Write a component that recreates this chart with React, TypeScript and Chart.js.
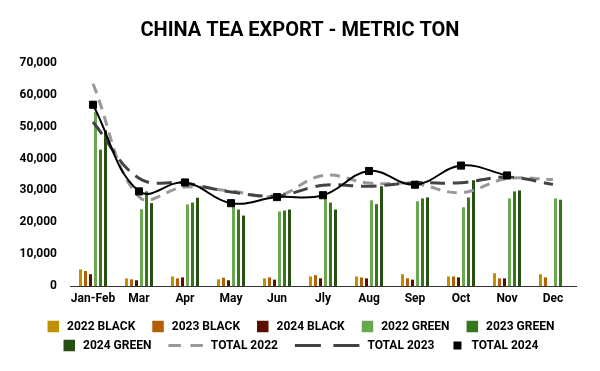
import React, { useEffect, useRef } from 'react';
import { Chart, registerables } from 'chart.js';

Chart.register(...registerables);

const TITLE = 'CHINA TEA EXPORT - METRIC TON';
const categories = ['Jan-Feb', 'Mar', 'Apr', 'May', 'Jun', 'Jly', 'Aug', 'Sep', 'Oct', 'Nov', 'Dec'];
const yTicks = [0, 10000, 20000, 30000, 40000, 50000, 60000, 70000];

const black2022 = [5200, 2400, 3000, 2100, 2400, 3000, 3000, 3700, 3000, 4000, 3700];
const black2023 = [4700, 2100, 2400, 2600, 2700, 3400, 2700, 2400, 3000, 2400, 2700];
const black2024 = [3700, 1800, 2700, 1800, 2000, 2400, 2400, 2000, 2700, 2400, null];
const green2022 = [54600, 24100, 25600, 24800, 23400, 28000, 26900, 26600, 24700, 27500, 27500];
const green2023 = [42800, 29700, 26200, 24000, 23700, 26200, 25700, 27500, 27800, 29700, 27100];
const green2024 = [48900, 26000, 27700, 22100, 24000, 24000, 31300, 27800, 33200, 30000, null];
const total2022 = [63500, 28000, 31100, 29800, 28300, 34700, 32300, 32100, 29300, 33700, 33400];
const total2023 = [51500, 33800, 32300, 29500, 28300, 31600, 31300, 32400, 32400, 34200, 31900];
const total2024 = [56900, 29700, 32500, 26000, 27900, 28500, 36100, 31800, 37800, 34700, null];

const FONT = 'Roboto, "Noto Sans", Arial, sans-serif';

type LegendItem = { label: string; kind: 'box' | 'dash' | 'marker'; color: string; dash?: number[]; w: number };

const legendRows: LegendItem[][] = [
  [
    { label: '2022 BLACK', kind: 'box', color: '#BF9000', w: 11.5 },
    { label: '2023 BLACK', kind: 'box', color: '#B45F06', w: 11.5 },
    { label: '2024 BLACK', kind: 'box', color: '#5B0F00', w: 11.5 },
    { label: '2022 GREEN', kind: 'box', color: '#6AA84F', w: 11.5 },
    { label: '2023 GREEN', kind: 'box', color: '#38761D', w: 11.5 },
  ],
  [
    { label: '2024 GREEN', kind: 'box', color: '#274E13', w: 11.5 },
    { label: 'TOTAL 2022', kind: 'dash', color: '#999999', dash: [12.5, 9.5], w: 34.5 },
    { label: 'TOTAL 2023', kind: 'dash', color: '#434343', dash: [26, 12.5], w: 64.5 },
    { label: 'TOTAL 2024', kind: 'marker', color: '#000000', w: 12 },
  ],
];

const titleAndLegend = {
  id: 'titleAndLegend',
  afterDraw(chart: any) {
    const ctx = chart.ctx as CanvasRenderingContext2D;
    ctx.save();
    ctx.fillStyle = '#000';
    ctx.font = `bold 20px ${FONT}`;
    ctx.textAlign = 'center';
    ctx.textBaseline = 'middle';
    ctx.fillText(TITLE, 300, 31);

    ctx.font = `bold 12px ${FONT}`;
    ctx.textAlign = 'left';
    const rowY = [326.5, 345.5];
    const gapSwatch = 8;
    const gapItem = 17;
    legendRows.forEach((row, ri) => {
      const widths = row.map((it) => it.w + gapSwatch + ctx.measureText(it.label).width);
      const total = widths.reduce((a, b) => a + b, 0) + gapItem * (row.length - 1);
      let x = 301 - total / 2;
      const y = rowY[ri];
      row.forEach((it, i) => {
        if (it.kind === 'box') {
          ctx.fillStyle = it.color;
          ctx.fillRect(x, y - it.w / 2, it.w, it.w);
        } else if (it.kind === 'dash') {
          ctx.strokeStyle = it.color;
          ctx.lineWidth = 3;
          ctx.setLineDash(it.dash || []);
          ctx.beginPath();
          ctx.moveTo(x, y);
          ctx.lineTo(x + it.w, y);
          ctx.stroke();
          ctx.setLineDash([]);
        } else {
          ctx.fillStyle = it.color;
          ctx.fillRect(x + it.w / 2 - 4, y - 4, 8, 8);
        }
        ctx.fillStyle = '#000';
        ctx.fillText(it.label, x + it.w + gapSwatch, y + 0.5);
        x += widths[i] + gapItem;
      });
    });
    ctx.restore();
  },
};

export default function App() {
  const ref = useRef<HTMLCanvasElement>(null);
  useEffect(() => {
    const barDs = (label: string, data: (number | null)[], color: string) => ({
      type: 'bar' as const,
      label,
      data,
      backgroundColor: color,
      borderWidth: 0,
      barPercentage: 0.6,
      categoryPercentage: 30 / 46,
      order: 3,
    });
    const chart = new Chart(ref.current as HTMLCanvasElement, {
      type: 'bar',
      data: {
        labels: categories,
        datasets: [
          barDs('2022 BLACK', black2022, '#BF9000'),
          barDs('2023 BLACK', black2023, '#B45F06'),
          barDs('2024 BLACK', black2024, '#5B0F00'),
          barDs('2022 GREEN', green2022, '#6AA84F'),
          barDs('2023 GREEN', green2023, '#38761D'),
          barDs('2024 GREEN', green2024, '#274E13'),
          {
            type: 'line',
            label: 'TOTAL 2022',
            data: total2022,
            borderColor: '#999999',
            borderWidth: 3,
            borderDash: [10, 7],
            pointRadius: 0,
            tension: 0.4,
            fill: false,
            order: 2,
          } as any,
          {
            type: 'line',
            label: 'TOTAL 2023',
            data: total2023,
            borderColor: '#434343',
            borderWidth: 3,
            borderDash: [15, 8],
            pointRadius: 0,
            tension: 0.4,
            fill: false,
            order: 1,
          } as any,
          {
            type: 'line',
            label: 'TOTAL 2024',
            data: total2024,
            borderColor: '#000000',
            borderWidth: 2,
            pointStyle: 'rect',
            pointRadius: 5,
            pointBackgroundColor: '#000',
            pointBorderColor: '#000',
            pointBorderWidth: 1,
            tension: 0.4,
            fill: false,
            order: 0,
          } as any,
        ],
      },
      options: {
        responsive: false,
        animation: false,
        devicePixelRatio: 1,
        layout: { padding: { top: 63, left: 8, right: 24, bottom: 65 } },
        plugins: {
          legend: { display: false },
          title: { display: false },
          tooltip: { enabled: false },
        },
        scales: {
          x: {
            grid: { display: false, drawTicks: false },
            border: { display: true, color: '#333333', width: 1 },
            ticks: {
              color: '#000',
              font: { family: FONT, size: 12, weight: 'bold' },
              padding: 6,
              maxRotation: 0,
              minRotation: 0,
              autoSkip: false,
            },
            afterFit: (s: any) => {
              s.height = 20;
            },
          },
          y: {
            min: 0,
            max: 70000,
            grid: { display: false, drawTicks: false },
            border: { display: false },
            afterBuildTicks: (s: any) => {
              s.ticks = yTicks.map((v) => ({ value: v }));
            },
            ticks: {
              color: '#000',
              font: { family: FONT, size: 12, weight: 'bold' },
              padding: 13,
              callback: (v: any) => Number(v).toLocaleString('en-US'),
            },
            afterFit: (s: any) => {
              s.width = 62;
            },
          },
        },
      },
      plugins: [titleAndLegend],
    });
    return () => chart.destroy();
  }, []);
  return (
    <div style={{ position: 'fixed', left: 0, top: 0, width: 600, height: 371, background: '#fff' }}>
      <canvas ref={ref} width={600} height={371} style={{ display: 'block' }} />
    </div>
  );
}
